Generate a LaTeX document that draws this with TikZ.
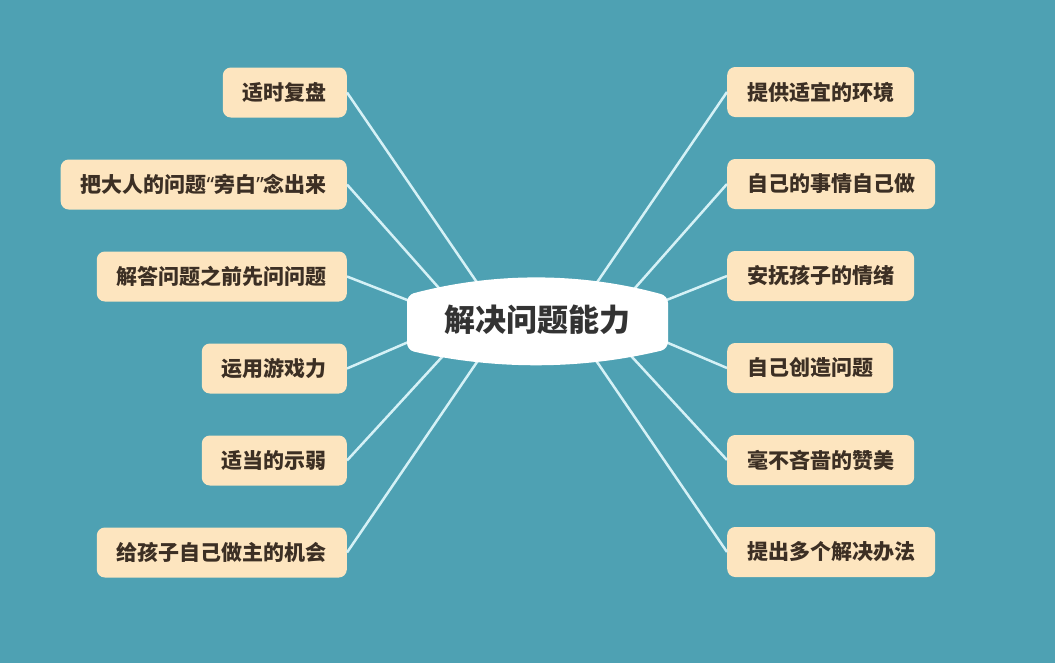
\documentclass[tikz,border=0pt]{standalone}
\usepackage{fontspec}
\setmainfont{Noto Sans CJK SC}
\newfontfamily\latinq{Noto Sans}
\usetikzlibrary{matrix, positioning}
\definecolor{sea}{HTML}{4EA1B3}
\definecolor{peach}{HTML}{FDE5BF}
\definecolor{ink}{HTML}{3C2F24}
\definecolor{ray}{HTML}{D5F1F6}

\begin{document}
\begin{tikzpicture}[x=1pt, y=-1pt, box/.style={fill=peach, rounded corners=8pt, minimum height=50pt, inner xsep=20pt, inner ysep=0pt, text=ink, font=\fontsize{21pt}{24pt}\selectfont\bfseries}, m/.style={matrix of nodes, nodes={box, anchor=#1}, row sep=42pt, inner sep=0pt, anchor=#1}, link/.style={draw=ray, line width=2.5pt}]
  \fill[sea] (0,0) rectangle (1055,663);
  \useasboundingbox (0,0) rectangle (1055,663);
  \coordinate (hub) at (537,320);
  % left column
  \matrix (L) [m=east] at (347,322.5) {
    适时复盘\\
    把大人的问题{\latinq “}旁白{\latinq ”}念出来\\
    解答问题之前先问问题\\
    运用游戏力\\
    适当的示弱\\
    给孩子自己做主的机会\\
  };
  % right column
  \matrix (R) [m=west] at (727,322) {
    提供适宜的环境\\
    自己的事情自己做\\
    安抚孩子的情绪\\
    自己创造问题\\
    毫不吝啬的赞美\\
    提出多个解决办法\\
  };
  \foreach \i/\dx/\dy in {1/48/-20, 2/83/-15, 3/117/-15, 4/117/17, 5/84/25, 6/45/20} {
    \draw[link] (L-\i-1.east) -- ([shift={(-\dx,\dy)}]hub);
    \draw[link] (R-\i-1.west) -- ([shift={(\dx,\dy)}]hub);
  }
  % centre
  \fill[white, rounded corners=7pt] (407,295) .. controls (494,272) and (581,272) .. (668,296) -- (668,349) .. controls (581,370) and (494,370) .. (407,350) -- cycle;
  \node (core) at (hub) [text=black!80, font=\fontsize{31pt}{34pt}\selectfont\bfseries] {解决问题能力};
\end{tikzpicture}
\end{document}
